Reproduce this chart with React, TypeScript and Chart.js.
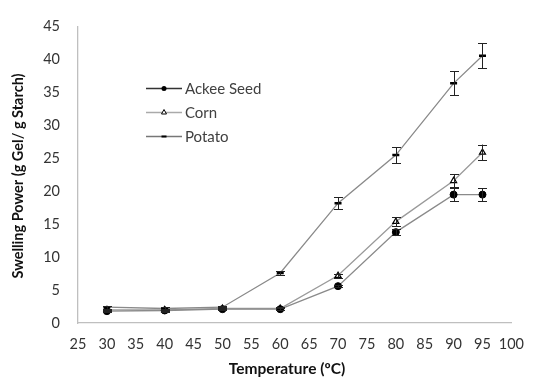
import React, { useEffect, useRef } from "react";
import { Chart, registerables } from "chart.js";

Chart.register(...registerables);

const temps = [30, 40, 50, 60, 70, 80, 90, 95];
const ackee = [1.8, 1.9, 2.1, 2.1, 5.6, 13.8, 19.5, 19.5];
const ackeeErr = [0.2, 0.2, 0.2, 0.2, 0.2, 0.5, 1.0, 1.0];
const corn = [2.0, 2.0, 2.2, 2.2, 7.2, 15.4, 21.6, 25.9];
const cornErr = [0.2, 0.2, 0.2, 0.2, 0.3, 0.7, 1.0, 1.2];
const potato = [2.4, 2.2, 2.4, 7.6, 18.2, 25.5, 36.4, 40.6];
const potatoErr = [0.2, 0.2, 0.2, 0.3, 0.9, 1.2, 1.8, 1.9];

const seriesNames = ["Ackee Seed", "Corn", "Potato"];
const xTitle = "Temperature (ºC)";
const yTitle = "Swelling Power (g Gel/ g Starch)";

const FONT = "Lato, 'Open Sans', sans-serif";

const errorBarPlugin = {
  id: "errorBars",
  afterDatasetsDraw(chart: any) {
    const ctx = chart.ctx;
    const xs = chart.scales.x;
    const ys = chart.scales.y;
    ctx.save();
    ctx.strokeStyle = "#222";
    ctx.lineWidth = 1;
    chart.data.datasets.forEach((ds: any) => {
      const errs = ds.errors || [];
      ds.data.forEach((p: any, i: number) => {
        const e = errs[i];
        if (!e) return;
        const px = Math.round(xs.getPixelForValue(p.x)) + 0.5;
        const top = ys.getPixelForValue(p.y + e);
        const bot = ys.getPixelForValue(p.y - e);
        ctx.beginPath();
        ctx.moveTo(px, top);
        ctx.lineTo(px, bot);
        ctx.moveTo(px - 4.5, Math.round(top) + 0.5);
        ctx.lineTo(px + 4.5, Math.round(top) + 0.5);
        ctx.moveTo(px - 4.5, Math.round(bot) + 0.5);
        ctx.lineTo(px + 4.5, Math.round(bot) + 0.5);
        ctx.stroke();
      });
    });
    ctx.restore();
  },
};

const overlayPlugin = {
  id: "overlay",
  afterDraw(chart: any) {
    const ctx = chart.ctx;
    ctx.save();
    // axis titles
    ctx.fillStyle = "#111";
    ctx.textAlign = "center";
    ctx.textBaseline = "middle";
    ctx.font = `bold 15.5px ${FONT}`;
    ctx.fillText(xTitle, 287, 369);
    ctx.save();
    ctx.translate(18, 176);
    ctx.rotate(-Math.PI / 2);
    ctx.font = `bold 14.5px ${FONT}`;
    ctx.fillText(yTitle, 0, 0);
    ctx.restore();

    // legend
    const items = chart.data.datasets;
    const lx = 146;
    const ly = [88, 112, 136];
    ctx.font = `15px ${FONT}`;
    ctx.textAlign = "left";
    items.forEach((ds: any, i: number) => {
      const y = ly[i];
      ctx.strokeStyle = ds.legendLine;
      ctx.lineWidth = 1.5;
      ctx.beginPath();
      ctx.moveTo(lx, y + 0.5);
      ctx.lineTo(lx + 36, y + 0.5);
      ctx.stroke();
      const cx = lx + 18;
      ctx.fillStyle = "#000";
      ctx.strokeStyle = "#000";
      if (ds.pointStyle === "circle") {
        ctx.beginPath();
        ctx.arc(cx, y + 0.5, 2.5, 0, Math.PI * 2);
        ctx.fill();
      } else if (ds.pointStyle === "triangle") {
        ctx.fillStyle = "#fff";
        ctx.lineWidth = 1;
        ctx.beginPath();
        ctx.moveTo(cx, y - 2.5);
        ctx.lineTo(cx + 2.5, y + 2);
        ctx.lineTo(cx - 2.5, y + 2);
        ctx.closePath();
        ctx.fill();
        ctx.stroke();
      } else {
        ctx.lineWidth = 2;
        ctx.beginPath();
        ctx.moveTo(cx - 2.5, y + 0.5);
        ctx.lineTo(cx + 2.5, y + 0.5);
        ctx.stroke();
      }
      ctx.fillStyle = "#404040";
      ctx.fillText(seriesNames[i], lx + 39, y + 1);
    });
    ctx.restore();
  },
};

export default function App() {
  const ref = useRef<HTMLCanvasElement | null>(null);
  useEffect(() => {
    document.body.style.margin = "0";
    const canvas = ref.current;
    if (!canvas) return;
    const toPts = (arr: number[]) => temps.map((t, i) => ({ x: t, y: arr[i] }));
    const chart = new Chart(canvas, {
      type: "line",
      data: {
        datasets: [
          {
            label: seriesNames[0],
            data: toPts(ackee),
            errors: ackeeErr,
            borderColor: "#8a8a8a",
            legendLine: "#333",
            borderWidth: 1.3,
            pointStyle: "circle",
            pointRadius: 3.5,
            pointBackgroundColor: "#000",
            pointBorderColor: "#000",
            pointBorderWidth: 1,
            tension: 0,
          } as any,
          {
            label: seriesNames[1],
            data: toPts(corn),
            errors: cornErr,
            borderColor: "#9a9a9a",
            legendLine: "#aaa",
            borderWidth: 1.3,
            pointStyle: "triangle",
            pointRadius: 3.5,
            pointBackgroundColor: "#fff",
            pointBorderColor: "#000",
            pointBorderWidth: 1.2,
            tension: 0,
          } as any,
          {
            label: seriesNames[2],
            data: toPts(potato),
            errors: potatoErr,
            borderColor: "#8a8a8a",
            legendLine: "#777",
            borderWidth: 1.3,
            pointStyle: "line",
            pointRadius: 3.5,
            pointBackgroundColor: "#000",
            pointBorderColor: "#000",
            pointBorderWidth: 2.5,
            tension: 0,
          } as any,
        ],
      },
      options: {
        responsive: false,
        animation: false,
        layout: { padding: { left: 0, right: 17, top: 22, bottom: 0 } },
        plugins: {
          legend: { display: false },
          tooltip: { enabled: false },
        },
        scales: {
          x: {
            type: "linear",
            min: 25,
            max: 100,
            ticks: {
              stepSize: 5,
              padding: 13,
              minRotation: 0,
              maxRotation: 0,
              autoSkip: false,
              color: "#333",
              font: { family: FONT, size: 14.5 },
            },
            grid: { display: false, drawTicks: false },
            border: { display: true, color: "#bfbfbf", width: 1.3 },
            afterFit(scale: any) {
              scale.height = 56;
            },
          },
          y: {
            min: 0,
            max: 45,
            ticks: {
              stepSize: 5,
              padding: 18,
              color: "#333",
              font: { family: FONT, size: 14.5 },
            },
            grid: { display: false, drawTicks: false },
            border: { display: true, color: "#bfbfbf", width: 1.3 },
            afterFit(scale: any) {
              scale.width = 78;
            },
          },
        },
      } as any,
      plugins: [errorBarPlugin, overlayPlugin],
    });
    return () => chart.destroy();
  }, []);
  return (
    <div style={{ width: 537, height: 379 }}>
      <canvas ref={ref} width={537} height={379} style={{ width: 537, height: 379, display: "block" }} />
    </div>
  );
}
